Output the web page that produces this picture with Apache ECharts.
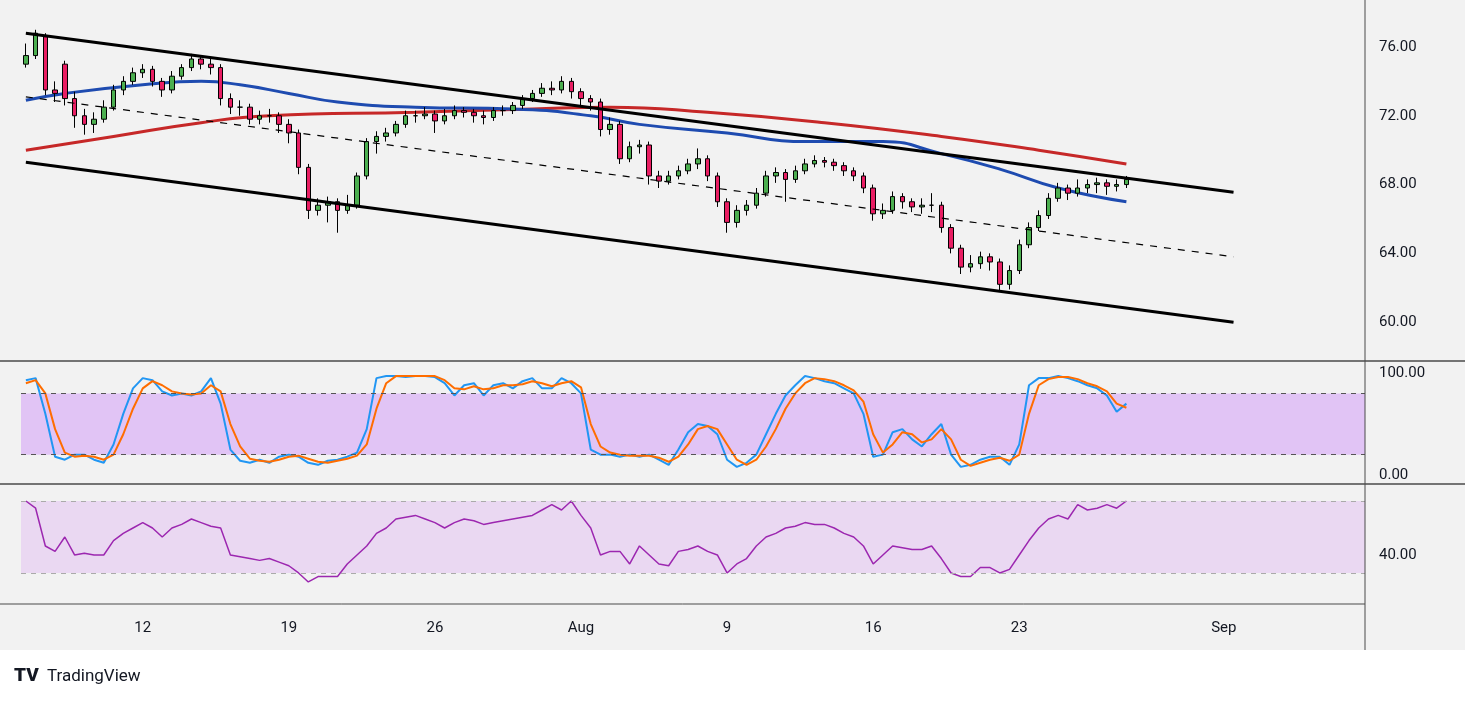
<!DOCTYPE html>
<html><head><meta charset="utf-8">
<script src="https://cdn.jsdelivr.net/npm/echarts@6/dist/echarts.min.js"></script>
<style>html,body{margin:0;padding:0;background:#fff;}#c{width:1479px;height:705px;}</style>
</head><body><div id="c"></div>
<script>
// [open, close, low, high]
const candles = [
[75.0,75.5,74.8,76.2],[75.5,76.8,75.3,77.0],[76.6,73.5,73.2,76.8],[73.5,73.3,72.8,74.0],[75.0,73.0,72.6,75.2],
[73.0,72.0,71.3,73.4],[72.0,71.5,70.9,72.4],[71.5,71.8,71.0,72.2],[71.8,72.5,71.6,72.9],[72.5,73.5,72.3,73.8],
[73.5,74.0,73.2,74.3],[74.0,74.5,73.8,74.8],[74.5,74.7,74.2,75.0],[74.7,74.0,73.7,74.9],[74.0,73.5,73.1,74.2],
[73.5,74.3,73.3,74.6],[74.3,74.8,74.1,75.0],[74.8,75.3,74.6,75.6],[75.3,75.0,74.7,75.5],[75.0,74.8,74.4,75.3],
[74.8,73.0,72.6,75.0],[73.0,72.5,72.1,73.3],[72.5,72.5,72.0,72.9],[72.5,71.8,71.5,72.7],[71.8,72.0,71.5,72.3],
[72.0,72.0,71.6,72.4],[72.0,71.5,71.0,72.2],[71.5,71.0,70.4,71.8],[71.0,69.0,68.6,71.2],[69.0,66.5,66.0,69.2],
[66.5,66.8,66.2,67.2],[66.8,67.0,65.8,67.3],[67.0,66.5,65.2,67.2],[66.5,66.8,66.3,67.4],[66.8,68.5,66.6,68.7],
[68.5,70.5,68.3,70.7],[70.5,70.8,69.8,71.1],[70.8,71.0,70.5,71.3],[71.0,71.5,70.8,71.7],[71.5,72.0,71.3,72.3],
[72.0,72.0,71.6,72.3],[72.0,72.1,71.8,72.5],[72.1,71.7,71.0,72.3],[71.7,72.0,71.5,72.4],[72.0,72.3,71.8,72.6],
[72.3,72.2,71.9,72.5],[72.2,72.0,71.6,72.4],[72.0,71.9,71.5,72.3],[71.9,72.3,71.7,72.5],[72.3,72.3,72.0,72.6],
[72.3,72.6,72.1,72.8],[72.6,73.0,72.4,73.2],[73.0,73.3,72.8,73.5],[73.3,73.6,73.1,73.9],[73.6,73.5,73.2,74.0],
[73.5,74.0,73.3,74.3],[74.0,73.4,73.0,74.2],[73.4,73.0,72.6,73.6],[73.0,72.8,72.3,73.2],[72.8,71.2,70.8,73.0],
[71.2,71.5,70.9,71.9],[71.5,69.5,69.2,71.7],[69.5,70.2,69.3,70.5],[70.2,70.3,69.8,70.6],[70.3,68.5,68.0,70.5],
[68.5,68.2,67.8,68.8],[68.2,68.5,68.0,68.8],[68.5,68.8,68.3,69.1],[68.8,69.2,68.6,69.5],[69.2,69.5,68.9,70.1],
[69.5,68.5,68.2,69.7],[68.5,67.0,66.7,68.7],[67.0,65.8,65.2,67.2],[65.8,66.5,65.5,66.8],[66.5,66.8,66.2,67.1],
[66.8,67.5,66.6,67.8],[67.5,68.5,67.3,68.8],[68.5,68.7,68.1,69.0],[68.7,68.3,67.0,68.9],[68.3,68.8,68.1,69.1],
[68.8,69.2,68.6,69.5],[69.2,69.4,69.0,69.7],[69.4,69.3,69.0,69.6],[69.3,69.1,68.8,69.5],[69.1,68.8,68.5,69.3],
[68.8,68.5,68.2,69.0],[68.5,67.8,67.5,68.7],[67.8,66.3,65.9,68.0],[66.3,66.5,66.0,66.9],[66.5,67.3,66.3,67.6],
[67.3,67.0,66.6,67.5],[67.0,66.7,66.4,67.2],[66.7,66.8,66.3,67.2],[66.8,66.8,66.4,67.5],[66.8,65.5,65.2,67.0],
[65.5,64.3,64.0,65.7],[64.3,63.2,62.8,64.5],[63.2,63.4,62.9,63.9],[63.4,63.8,63.1,64.1],[63.8,63.5,63.0,64.0],
[63.5,62.2,61.8,63.7],[62.2,63.0,61.9,63.3],[63.0,64.5,62.8,64.8],[64.5,65.5,64.3,65.8],[65.5,66.2,65.3,66.5],
[66.2,67.2,66.0,67.5],[67.2,67.8,67.0,68.1],[67.8,67.5,67.1,68.0],[67.5,67.8,67.3,68.3],[67.8,68.0,67.5,68.3],
[68.0,68.1,67.5,68.4],[68.1,67.9,67.4,68.3],[67.9,68.0,67.6,68.3],[68.0,68.3,67.8,68.5]];
const stochK = [93,95,60,18,15,20,20,15,12,30,60,85,95,93,82,78,80,78,82,95,70,25,14,12,15,12,18,20,18,12,10,14,15,18,22,45,95,97,97,96,97,97,96,90,78,88,90,78,88,90,85,92,95,85,85,95,90,80,25,20,20,18,20,18,20,15,10,25,42,50,48,40,15,8,12,20,40,60,78,88,97,95,92,90,85,80,60,18,20,42,45,35,28,40,50,20,8,10,15,18,18,10,30,88,95,95,97,95,92,88,85,78,62,70];
const stochD = [90,93,80,45,22,18,19,18,15,20,40,65,85,92,88,82,80,79,80,88,82,50,28,16,14,13,15,18,19,16,13,12,14,16,19,30,65,90,97,97,97,97,97,93,85,84,87,84,85,88,88,89,92,90,87,90,92,86,50,28,22,20,19,19,19,17,13,18,30,45,48,45,30,15,10,15,28,45,65,80,90,95,94,92,88,83,72,40,22,30,42,40,32,35,45,35,15,9,12,15,17,14,20,60,88,94,96,96,94,90,87,82,70,66];
const rsi = [70,66,45,42,50,40,41,40,40,48,52,55,58,55,50,55,57,60,58,56,55,40,39,38,37,38,36,34,30,25,28,28,28,35,40,45,52,55,60,61,62,60,58,55,58,60,59,57,58,59,60,61,62,65,68,65,70,62,55,40,42,42,35,45,40,35,34,42,43,45,42,40,30,35,38,45,50,52,55,56,58,57,57,55,52,50,45,35,40,45,44,43,43,45,38,30,28,28,33,33,30,32,40,48,55,60,62,60,68,65,66,68,66,70];
const ma100 = [[0,72.9],[4,73.3],[12,73.8],[18,74.0],[22,73.8],[27,73.3],[32,72.8],[40,72.5],[50,72.4],[58,72.0],[63,71.5],[72,71.0],[80,70.5],[88,70.5],[94,69.8],[100,68.9],[106,67.8],[113,67.0]];
const ma200 = [[0,70.0],[9,70.8],[18,71.6],[25,72.0],[40,72.2],[52,72.4],[60,72.5],[70,72.2],[82,71.6],[94,70.8],[104,70.0],[113,69.2]];
const channelUpper = [[0,76.8],[124,67.55]];
const channelMid = [[0,73.1],[124,63.8]];
const channelLower = [[0,69.3],[124,60.0]];
const slotCount = 138;
const dayLabels = {12:'12',27:'19',42:'26',57:'Aug',72:'9',87:'16',102:'23',123:'Sep'};
const priceTicks = [60,64,68,72,76];
const stochTicks = [0,100];
const rsiTicks = [40];

const cats = Array.from({length: slotCount}, (_, i) => String(i));
const chart = echarts.init(document.getElementById('c'));
const L = 21, R = 114;
const xBase = (gi, show) => ({
  type:'category', gridIndex:gi, data:cats, boundaryGap:true,
  axisLine:{show:false}, axisTick:{show:false}, splitLine:{show:false},
  axisLabel:{show:show, interval:0, color:'#131722', fontSize:15, margin:18,
    fontFamily:'Roboto', formatter:(v,i)=>dayLabels[i]||''}
});
const yBase = (gi,min,max,ticks) => ({
  type:'value', gridIndex:gi, position:'right', min:min, max:max, scale:true,
  axisLine:{show:false}, axisTick:{show:false}, splitLine:{show:false},
  axisLabel:{customValues:ticks, color:'#131722', fontSize:15, fontFamily:'Roboto', margin:14,
    formatter:v=>v.toFixed(2)}
});
chart.setOption({
  backgroundColor:'#fff',
  animation:false,
  graphic:[
    {type:'rect', shape:{x:0,y:0,width:1465,height:650}, style:{fill:'#f2f2f2'}, z:-10, silent:true},
    {type:'line', shape:{x1:1365,y1:0,x2:1365,y2:650}, style:{stroke:'#4a4a4a',lineWidth:1}, z:100},
    {type:'line', shape:{x1:0,y1:361,x2:1465,y2:361}, style:{stroke:'#4a4a4a',lineWidth:1.5}, z:100},
    {type:'line', shape:{x1:0,y1:484,x2:1465,y2:484}, style:{stroke:'#4a4a4a',lineWidth:1.5}, z:100},
    {type:'line', shape:{x1:0,y1:604,x2:1365,y2:604}, style:{stroke:'#4a4a4a',lineWidth:1}, z:100},
    {type:'text', left:14, top:667, style:{text:'TV', font:'900 19px Roboto', fill:'#131722'}},
    {type:'text', left:47, top:668, style:{text:'TradingView', font:'17px Roboto', fill:'#131722'}}
  ],
  grid:[
    {left:L, right:R, top:5, height:355},
    {left:L, right:R, top:362, height:121},
    {left:L, right:R, top:485, height:118}
  ],
  xAxis:[xBase(0,false), xBase(1,false), xBase(2,true)],
  yAxis:[yBase(0,57.8,78.44,priceTicks), yBase(1,-7.8,110.8,stochTicks), yBase(2,13.3,78.9,rsiTicks)],
  series:[
    {type:'line', xAxisIndex:0, yAxisIndex:0, data:ma200, smooth:true, symbol:'none', lineStyle:{color:'#c62828',width:3}, z:2},
    {type:'line', xAxisIndex:0, yAxisIndex:0, data:ma100, smooth:true, symbol:'none', lineStyle:{color:'#1e4bb0',width:3}, z:3},
    {type:'candlestick', xAxisIndex:0, yAxisIndex:0, data:candles, barWidth:5,
      itemStyle:{color:'#4caf50', color0:'#e91e63', borderColor:'#000', borderColor0:'#000', borderWidth:1}, z:4},
    {type:'line', xAxisIndex:0, yAxisIndex:0, data:channelUpper, symbol:'none', lineStyle:{color:'#000',width:3}, z:5},
    {type:'line', xAxisIndex:0, yAxisIndex:0, data:channelLower, symbol:'none', lineStyle:{color:'#000',width:3}, z:5},
    {type:'line', xAxisIndex:0, yAxisIndex:0, data:channelMid, symbol:'none', lineStyle:{color:'#000',width:1.2,type:[7,7]}, z:5},
    {type:'line', xAxisIndex:1, yAxisIndex:1, data:stochK, symbol:'none', lineStyle:{color:'#2196f3',width:2}, z:3,
      markArea:{silent:true, itemStyle:{color:'#e1c4f5'}, data:[[{yAxis:20},{yAxis:80}]]},
      markLine:{silent:true, symbol:'none', label:{show:false}, lineStyle:{color:'#555',type:[5,5],width:1}, data:[{yAxis:20},{yAxis:80}]}},
    {type:'line', xAxisIndex:1, yAxisIndex:1, data:stochD, symbol:'none', lineStyle:{color:'#ff6d00',width:2}, z:4},
    {type:'line', xAxisIndex:2, yAxisIndex:2, data:rsi, symbol:'none', lineStyle:{color:'#9c27b0',width:1.5}, z:3,
      markArea:{silent:true, itemStyle:{color:'#ead8f2'}, data:[[{yAxis:30},{yAxis:70}]]},
      markLine:{silent:true, symbol:'none', label:{show:false}, lineStyle:{color:'#aaa',type:[5,5],width:1}, data:[{yAxis:30},{yAxis:70}]}}
  ]
});
</script></body></html>
